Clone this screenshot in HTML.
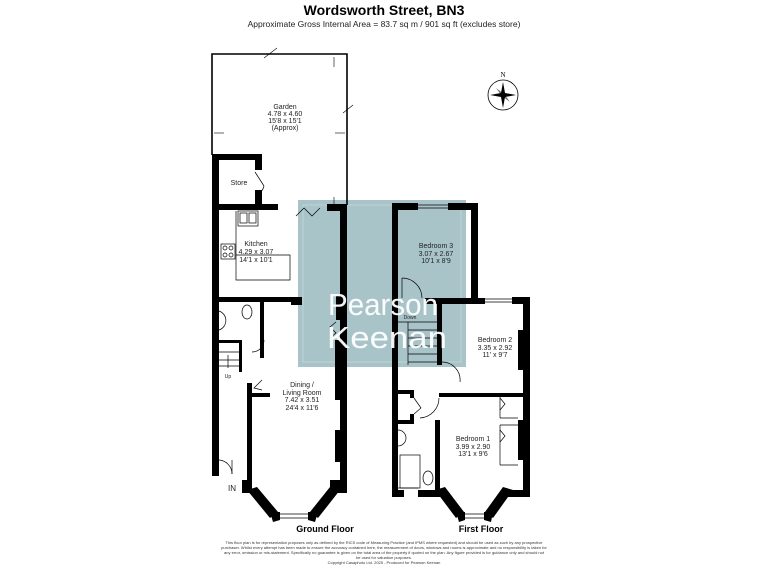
<!DOCTYPE html>
<html><head><meta charset="utf-8"><style>
html,body{margin:0;padding:0;background:#fff;}
svg{display:block;font-family:"Liberation Sans",Arial,sans-serif;}
</style></head><body>
<svg width="768" height="576" viewBox="0 0 768 576" xmlns="http://www.w3.org/2000/svg">
<text x="384" y="15" font-size="14" font-weight="bold" text-anchor="middle">Wordsworth Street, BN3</text>
<text x="384" y="27" font-size="8.5" text-anchor="middle" fill="#222">Approximate Gross Internal Area = 83.7 sq m / 901 sq ft (excludes store)</text>

<!-- watermark box -->
<rect x="298" y="200" width="168" height="167" fill="#a9c4c9"/>
<rect x="303" y="205" width="158" height="157" fill="none" stroke="#c6d8da" stroke-width="0.8"/>

<!-- Garden -->
<g fill="none" stroke="#000" stroke-width="1.6">
<polyline points="212,155 212,54 347,54 347,205"/>
</g>
<g stroke="#000" stroke-width="0.6" fill="none">
<line x1="266" y1="47" x2="276" y2="60" transform="rotate(90 271 53)"/>
<line x1="343" y1="113" x2="353" y2="105"/>
<line x1="214" y1="133" x2="224" y2="133"/><line x1="335" y1="133" x2="345" y2="133"/>
<line x1="334" y1="57" x2="334" y2="67"/><line x1="334" y1="197" x2="334" y2="205"/>
</g>
<g font-size="7" text-anchor="middle" fill="#222">
<text x="285" y="109">Garden</text><text x="285" y="116">4.78 x 4.60</text>
<text x="285" y="123">15'8 x 15'1</text><text x="285" y="130">(Approx)</text>
<text x="239" y="185">Store</text>
</g>

<!-- Ground floor walls -->
<g fill="#000">
<rect x="212" y="154" width="50" height="6"/>
<rect x="212" y="154" width="7" height="322"/>
<rect x="255" y="154" width="7" height="16"/>
<rect x="255" y="190" width="7" height="16"/>
<rect x="212" y="204" width="66" height="6"/>
<rect x="327" y="204" width="20" height="7"/>
<rect x="340" y="204" width="7" height="100"/>
<rect x="336" y="296" width="11" height="24"/>
<rect x="340" y="318" width="7" height="175"/>
<rect x="335" y="340" width="12" height="60"/>
<rect x="335" y="430" width="12" height="32"/>
<rect x="212" y="297" width="90" height="5"/>
<rect x="291" y="297" width="11" height="8"/>
<rect x="260" y="302" width="4" height="56"/>
<rect x="219" y="340" width="23" height="3"/>
<rect x="239" y="340" width="3" height="32"/>
<rect x="247" y="383" width="5" height="110"/>
<rect x="247" y="393" width="23" height="4"/>
<rect x="242" y="480" width="10" height="13"/>
<rect x="330" y="480" width="17" height="13"/>
<polygon points="247,490 257,487 278,512 270,518"/>
<polygon points="330,487 340,490 318,518 310,512"/>
<polygon points="270,512 280,512 280,520 273,522"/>
<polygon points="308,512 318,512 315,522 308,520"/>
</g>
<g fill="none" stroke="#000" stroke-width="0.7">
<line x1="280" y1="514" x2="308" y2="514"/><line x1="280" y1="518" x2="308" y2="518"/>
<line x1="258" y1="489" x2="274" y2="510"/><line x1="329" y1="489" x2="314" y2="510"/>
<path d="M219 460 A14 14 0 0 1 232 474"/><line x1="232" y1="460" x2="232" y2="474"/>
<path d="M264 340 A12 12 0 0 1 252 352"/>
<path d="M255 172 L264 186 M264 186 A12 12 0 0 1 255 195"/>
<rect x="238" y="211" width="20" height="15"/>
<rect x="240" y="213" width="7" height="10"/><rect x="249" y="213" width="7" height="10"/>
<rect x="221" y="244" width="14" height="15"/>
<circle cx="225" cy="248" r="2"/><circle cx="231" cy="248" r="2"/><circle cx="225" cy="255" r="2"/><circle cx="231" cy="255" r="2"/>
<polyline points="236,211 236,280 290,280 290,255 236,255"/>
<ellipse cx="247" cy="312" rx="5" ry="7"/>
<path d="M219 311 A10 10 0 0 1 219 330"/>
<line x1="219" y1="352" x2="239" y2="352"/><line x1="219" y1="360" x2="239" y2="360"/><line x1="219" y1="366" x2="239" y2="366"/>
<line x1="228" y1="355" x2="228" y2="368"/>
<polyline points="296,216 304,208 312,216 320,208"/>
<polyline points="336,322 330,327 336,333 330,338"/>
<polyline points="262,380 254,388 262,390"/>
</g>
<g font-size="7" text-anchor="middle" fill="#222">
<text x="256" y="246">Kitchen</text><text x="256" y="254">4.29 x 3.07</text><text x="256" y="262">14'1 x 10'1</text>
<text x="302" y="387">Dining /</text><text x="302" y="395">Living Room</text><text x="302" y="402">7.42 x 3.51</text><text x="302" y="410">24'4 x 11'6</text>
<text x="228" y="378" font-size="5">Up</text>
<text x="232" y="491" font-size="8">IN</text>
</g>

<!-- First floor walls -->
<g fill="#000">
<rect x="392" y="203" width="6" height="294"/>
<rect x="392" y="203" width="26" height="7"/>
<rect x="448" y="203" width="30" height="7"/>
<rect x="471" y="203" width="7" height="101"/>
<rect x="425" y="298" width="60" height="6"/>
<rect x="512" y="297" width="18" height="7"/>
<rect x="523" y="297" width="7" height="200"/>
<rect x="518" y="330" width="12" height="40"/>
<rect x="518" y="420" width="12" height="40"/>
<rect x="437" y="304" width="5" height="61"/>
<rect x="439" y="393" width="84" height="4"/>
<rect x="398" y="390" width="12" height="4"/>
<rect x="410" y="390" width="4" height="8"/>
<rect x="398" y="420" width="16" height="4"/>
<rect x="410" y="414" width="4" height="10"/>
<rect x="435" y="420" width="5" height="77"/>
<rect x="398" y="490" width="6" height="7"/>
<rect x="418" y="490" width="22" height="7"/>
<rect x="508" y="490" width="22" height="7"/>
<polygon points="435,490 445,487 464,512 456,518"/>
<polygon points="503,487 513,490 493,518 485,512"/>
<polygon points="456,512 465,512 465,520 459,522"/>
<polygon points="484,512 493,512 491,522 484,520"/>
</g>
<g fill="none" stroke="#000" stroke-width="0.7">
<line x1="418" y1="205" x2="448" y2="205"/><line x1="418" y1="208" x2="448" y2="208"/>
<line x1="485" y1="299" x2="512" y2="299"/><line x1="485" y1="302" x2="512" y2="302"/>
<line x1="465" y1="514" x2="484" y2="514"/><line x1="465" y1="518" x2="484" y2="518"/>
<path d="M402 278 A20 20 0 0 1 422 298"/><line x1="402" y1="278" x2="402" y2="298"/>
<path d="M442 362 A18 18 0 0 1 460 382"/>
<path d="M439 398 A20 20 0 0 1 420 418"/>
<path d="M414 398 L421 408 L414 414"/>
<line x1="398" y1="322" x2="437" y2="322"/>
<line x1="408" y1="322" x2="408" y2="365"/>
<line x1="408" y1="330" x2="437" y2="330"/><line x1="408" y1="338" x2="437" y2="338"/><line x1="408" y1="346" x2="437" y2="346"/><line x1="408" y1="354" x2="437" y2="354"/><line x1="408" y1="362" x2="437" y2="362"/>
<rect x="400" y="455" width="20" height="33"/>
<path d="M398 430 A8 8 0 0 1 398 446"/>
<ellipse cx="428" cy="478" rx="5" ry="7"/>
<line x1="398" y1="488" x2="418" y2="488"/>
<polyline points="500,398 505,404 500,410"/><polyline points="500,430 505,436 500,442"/>
<line x1="500" y1="397" x2="500" y2="418"/><line x1="500" y1="418" x2="518" y2="418"/>
<line x1="500" y1="425" x2="518" y2="425"/><line x1="500" y1="425" x2="500" y2="465"/><line x1="500" y1="465" x2="518" y2="465"/>
</g>
<g font-size="7" text-anchor="middle" fill="#222">
<text x="436" y="248">Bedroom 3</text><text x="436" y="256">3.07 x 2.67</text><text x="436" y="263">10'1 x 8'9</text>
<text x="495" y="342">Bedroom 2</text><text x="495" y="350">3.35 x 2.92</text><text x="495" y="357">11' x 9'7</text>
<text x="473" y="441">Bedroom 1</text><text x="473" y="449">3.99 x 2.90</text><text x="473" y="456">13'1 x 9'6</text>
<text x="410" y="319" font-size="5">Down</text>
</g>

<!-- watermark text -->
<g fill="#fff" font-size="31" text-anchor="middle" opacity="0.95">
<text x="383" y="315" textLength="110" lengthAdjust="spacingAndGlyphs">Pearson</text>
<text x="387" y="348" textLength="120" lengthAdjust="spacingAndGlyphs">Keenan</text>
</g>

<!-- compass -->
<g transform="translate(503,95)">
<circle r="15" fill="none" stroke="#000" stroke-width="0.8"/>
<polygon points="0,-13 2,-2 13,0 2,2 0,13 -2,2 -13,0 -2,-2" fill="#000"/>
<polygon points="-7,-7 1,-1 7,7 -1,1" fill="#000" opacity="0.6"/>
<text x="0" y="-18" font-size="7" text-anchor="middle" font-family="Liberation Serif">N</text>
</g>

<text x="325" y="532" font-size="9" font-weight="bold" text-anchor="middle">Ground Floor</text>
<text x="481" y="532" font-size="9" font-weight="bold" text-anchor="middle">First Floor</text>

<g font-size="4" fill="#333" text-anchor="middle">
<text x="384" y="544">This floor plan is for representation purposes only as defined by the RICS code of Measuring Practice (and IPMS where requested) and should be used as such by any prospective</text>
<text x="384" y="549">purchaser. Whilst every attempt has been made to ensure the accuracy contained here, the measurement of doors, windows and rooms is approximate and no responsibility is taken for</text>
<text x="384" y="554">any error, omission or mis-statement. Specifically no guarantee is given on the total area of the property if quoted on the plan. Any figure provided is for guidance only and should not</text>
<text x="384" y="559">be used for valuation purposes.</text>
<text x="384" y="564">Copyright Casaphoto Ltd. 2025 - Produced for Pearson Keenan</text>
</g>
</svg>
</body></html>
